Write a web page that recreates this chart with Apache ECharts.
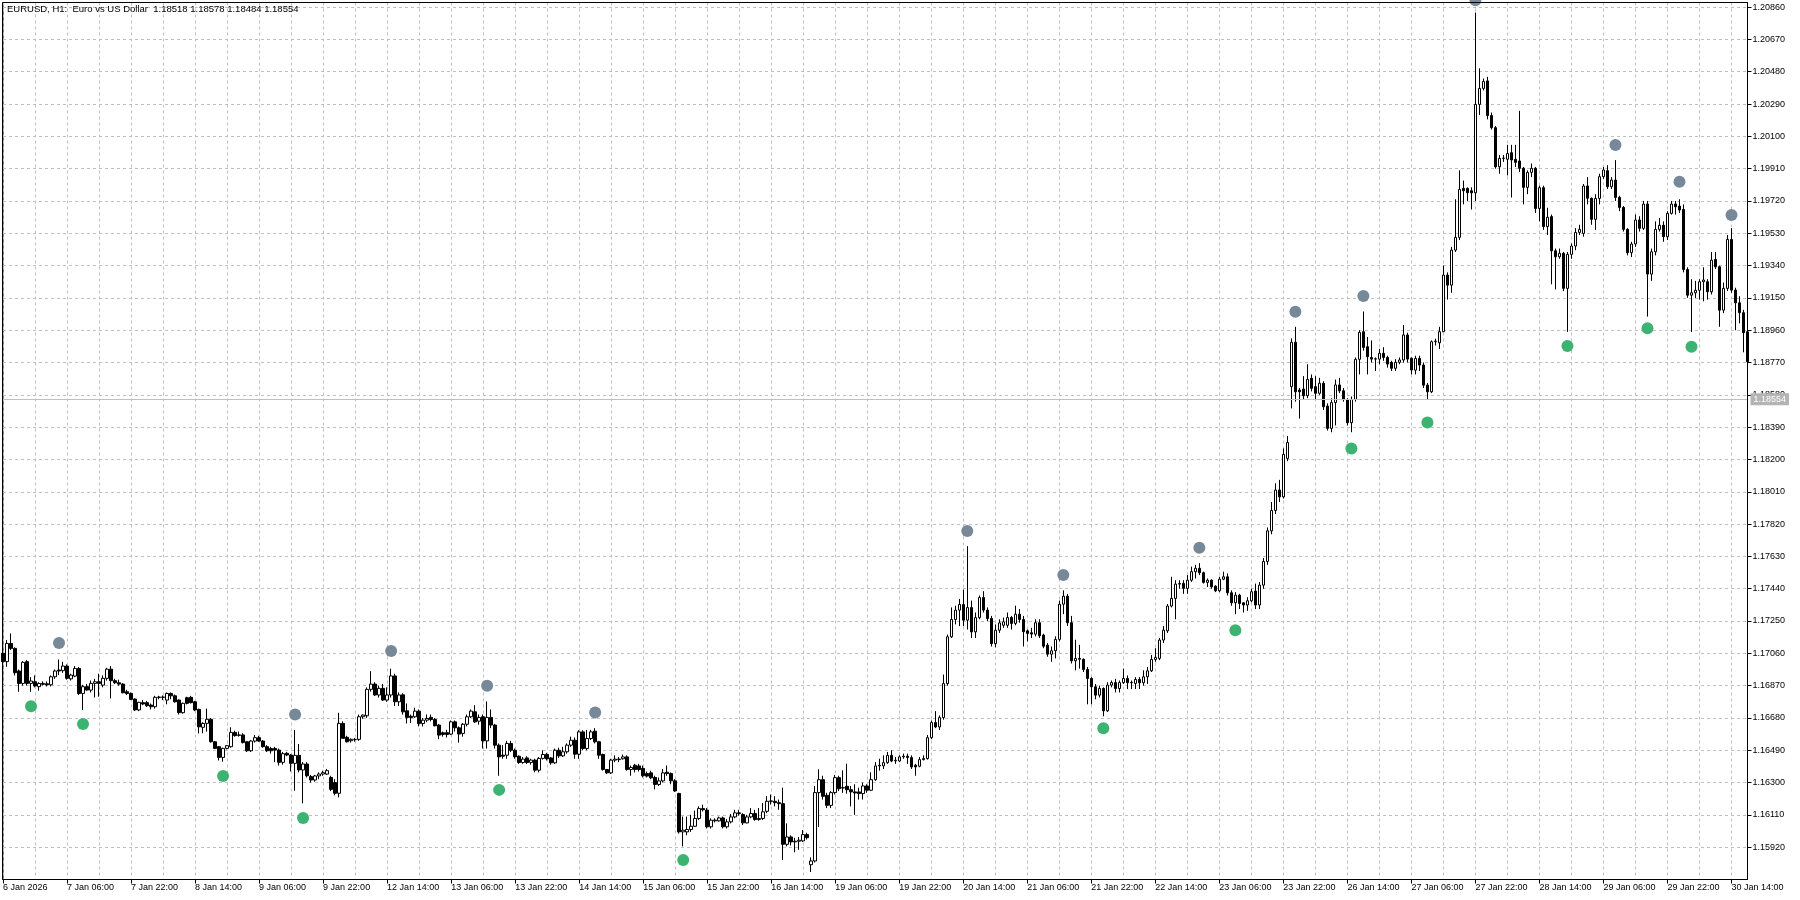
<!DOCTYPE html>
<html><head><meta charset="utf-8">
<script src="https://cdn.jsdelivr.net/npm/echarts@6/dist/echarts.min.js"></script>
<style>html,body{margin:0;padding:0;background:#fff}#c{width:1800px;height:900px}</style>
</head><body><div id="c"></div>
<script>
// Prices are stored as points above 1.00000 (1 point = 0.00001)
const titleText = 'EURUSD, H1:  Euro vs US Dollar  1.18518 1.18578 1.18484 1.18554';
const bidPrice = 1.18554;
const tickLabels = ["6 Jan 2026","7 Jan 06:00","7 Jan 22:00","8 Jan 14:00","9 Jan 06:00","9 Jan 22:00","12 Jan 14:00","13 Jan 06:00","13 Jan 22:00","14 Jan 14:00","15 Jan 06:00","15 Jan 22:00","16 Jan 14:00","19 Jan 06:00","19 Jan 22:00","20 Jan 14:00","21 Jan 06:00","21 Jan 22:00","22 Jan 14:00","23 Jan 06:00","23 Jan 22:00","26 Jan 14:00","27 Jan 06:00","27 Jan 22:00","28 Jan 14:00","29 Jan 06:00","29 Jan 22:00","30 Jan 14:00"];

const opens = [
17060,17011,17118,17089,16956,16883,17011,16883,16893,16864,
16883,16881,16875,16922,16962,16958,16985,16910,16926,16971,
16824,16864,16844,16883,16893,16873,16913,16967,16899,16887,
16879,16834,16824,16791,16727,16770,16770,16756,16746,16801,
16801,16785,16824,16810,16785,16711,16799,16801,16775,16730,
16625,16648,16672,16540,16511,16448,16501,16511,16595,16580,
16580,16540,16487,16544,16564,16544,16511,16500,16500,16491,
16419,16472,16462,16413,16460,16374,16409,16335,16315,16339,
16350,16350,16330,16300,16237,16648,16566,16546,16552,16554,
16687,16693,16848,16879,16815,16854,16785,16815,16927,16775,
16816,16722,16690,16687,16720,16647,16667,16683,16671,16638,
16593,16593,16585,16657,16622,16589,16643,16687,16716,16661,
16687,16545,16683,16638,16520,16461,16461,16530,16490,16455,
16418,16445,16418,16432,16373,16442,16465,16445,16416,16490,
16457,16481,16520,16549,16467,16598,16500,16559,16602,16540,
16465,16377,16357,16432,16435,16440,16451,16377,16402,16398,
16383,16353,16357,16330,16289,16310,16361,16353,16310,16236,
16010,16010,16024,16043,16089,16147,16138,16040,16079,16075,
16092,16040,16069,16098,16122,16112,16063,16098,16118,16083,
16089,16131,16190,16190,16182,16176,15937,15980,15951,15955,
15957,15994,15817,15839,16241,16317,16225,16166,16241,16329,
16268,16278,16258,16245,16245,16235,16280,16255,16317,16398,
16398,16417,16460,16427,16427,16451,16455,16447,16402,16396,
16435,16441,16564,16653,16627,16682,16882,17157,17259,17314,
17347,17255,17329,17186,17270,17388,17314,17265,17117,17196,
17225,17225,17271,17236,17290,17259,17192,17181,17173,17240,
17167,17108,17055,17075,17142,17349,17396,17240,17016,17030,
17025,16965,16912,16863,16814,16853,16722,16873,16888,16853,
16888,16912,16887,16883,16906,16887,16922,16957,17024,17030,
17138,17192,17338,17383,17467,17471,17442,17490,17540,17560,
17534,17477,17490,17455,17428,17496,17510,17416,17357,17402,
17357,17344,17369,17426,17344,17461,17600,17780,17900,18020,
17980,18206,18628,18889,18608,18614,18575,18677,18628,18589,
18648,18514,18383,18534,18638,18604,18553,18416,18553,18789,
18951,18863,18800,18790,18790,18824,18800,18771,18736,18771,
18785,18932,18795,18725,18794,18755,18637,18598,18892,18886,
18951,19284,19225,19431,19506,19794,19794,19780,19768,20288,
20382,20426,20222,20151,19921,19970,19965,20004,19965,19955,
19912,19800,19888,19912,19676,19798,19569,19628,19427,19392,
19412,19206,19406,19455,19535,19529,19808,19736,19612,19735,
19863,19898,19804,19843,19741,19682,19553,19416,19467,19608,
19559,19702,19290,19421,19553,19577,19510,19647,19702,19690,
19670,19317,19166,19180,19195,19245,19245,19186,19376,19333,
19078,19206,19494,19196,19121,19063,18951];

const highs = [
17075,17138,17177,17095,16965,17015,17020,16920,16930,16890,
16895,16895,16930,16965,17024,17010,16995,16940,16985,16980,
16875,16880,16900,16910,16940,16930,16975,16985,16910,16905,
16885,16845,16830,16795,16775,16785,16780,16765,16810,16810,
16812,16830,16830,16818,16790,16770,16805,16810,16780,16735,
16655,16735,16680,16545,16515,16505,16520,16625,16605,16600,
16590,16545,16550,16580,16575,16550,16520,16510,16510,16500,
16480,16480,16468,16609,16527,16420,16420,16345,16345,16360,
16370,16380,16340,16320,16710,16660,16575,16560,16562,16700,
16700,16860,16955,16890,16870,16880,16860,16970,16940,16830,
16825,16765,16700,16740,16730,16680,16700,16700,16680,16645,
16600,16610,16665,16665,16630,16650,16700,16730,16755,16700,
16700,16777,16730,16645,16530,16520,16545,16545,16500,16460,
16450,16455,16440,16440,16450,16490,16475,16450,16500,16505,
16510,16530,16570,16565,16608,16608,16610,16610,16620,16545,
16470,16380,16440,16460,16450,16465,16460,16400,16410,16410,
16400,16365,16370,16340,16330,16380,16400,16360,16320,16240,
16100,16100,16110,16135,16160,16170,16150,16090,16090,16100,
16100,16085,16115,16140,16140,16120,16110,16150,16140,16150,
16180,16220,16230,16220,16200,16270,16060,15990,15975,15980,
16020,16005,15860,16280,16378,16340,16240,16250,16345,16340,
16372,16411,16280,16290,16270,16300,16290,16360,16420,16440,
16460,16480,16490,16450,16460,16470,16470,16460,16410,16450,
16460,16580,16665,16720,16695,16935,17170,17330,17340,17380,
17435,17690,17370,17300,17400,17425,17330,17280,17230,17260,
17270,17300,17280,17340,17320,17280,17200,17210,17260,17260,
17175,17120,17100,17160,17370,17430,17410,17280,17140,17110,
17030,16980,16920,16880,16870,16860,16890,16900,16910,16900,
16970,16930,16900,16920,16920,16960,16980,17050,17090,17150,
17220,17350,17510,17490,17490,17490,17520,17570,17580,17590,
17540,17500,17495,17460,17510,17540,17530,17430,17420,17410,
17360,17390,17440,17470,17480,17620,17800,17950,18060,18080,
18265,18338,18912,18980,18620,18690,18760,18700,18690,18680,
18660,18530,18560,18670,18680,18620,18560,18570,18800,18960,
19070,18920,18900,18800,18850,18860,18810,18780,18790,18800,
18990,18945,18800,18810,18810,18770,18650,18900,18910,18980,
19340,19300,19450,19730,19900,19840,19800,19800,20828,20500,
20440,20450,20240,20160,19990,19990,20050,20050,20050,20250,
19920,19900,19940,19920,19810,19810,19680,19640,19440,19440,
19420,19420,19470,19560,19580,19820,19860,19740,19760,19880,
19920,19930,19860,19960,19750,19690,19560,19480,19640,19630,
19720,19720,19440,19600,19620,19600,19660,19720,19720,19730,
19700,19330,19260,19250,19260,19330,19260,19420,19420,19340,
19240,19520,19560,19210,19160,19080,18960];

const lows = [
17005,16981,17080,16930,16834,16870,16870,16834,16860,16840,
16870,16865,16865,16910,16932,16945,16905,16900,16920,16815,
16727,16840,16830,16800,16805,16860,16900,16795,16880,16870,
16825,16815,16785,16720,16720,16755,16745,16730,16735,16790,
16785,16760,16790,16770,16700,16705,16760,16765,16720,16589,
16590,16600,16535,16500,16430,16423,16495,16505,16570,16570,
16530,16480,16480,16535,16540,16505,16480,16470,16420,16400,
16405,16455,16365,16252,16360,16178,16330,16300,16305,16320,
16340,16345,16250,16225,16213,16560,16535,16535,16540,16545,
16675,16680,16835,16810,16800,16780,16775,16800,16750,16750,
16700,16647,16650,16680,16630,16630,16655,16660,16630,16555,
16570,16565,16580,16600,16535,16570,16630,16680,16650,16640,
16500,16500,16620,16500,16340,16440,16440,16480,16440,16410,
16410,16410,16405,16360,16360,16435,16430,16405,16410,16445,
16450,16470,16510,16440,16440,16490,16490,16550,16530,16440,
16370,16350,16350,16420,16420,16435,16370,16340,16360,16365,
16330,16330,16320,16260,16280,16300,16340,16290,16245,16000,
15925,15990,16010,16040,16080,16130,16030,16030,16065,16070,
16030,16030,16060,16090,16105,16050,16060,16090,16075,16075,
16080,16120,16170,16160,16140,15845,15925,15930,15890,15905,
15950,15965,15774,15830,16039,16200,16150,16150,16230,16250,
16240,16235,16160,16110,16200,16200,16240,16250,16310,16370,
16380,16410,16420,16410,16420,16440,16410,16380,16340,16390,
16430,16435,16555,16620,16610,16670,16870,17150,17230,17220,
17220,17200,17150,17150,17260,17300,17250,17100,17095,17180,
17210,17210,17200,17225,17240,17100,17130,17150,17160,17150,
17090,17040,17010,17030,17130,17290,17220,17000,16960,16970,
16950,16760,16760,16790,16800,16690,16715,16860,16830,16830,
16880,16850,16850,16850,16850,16870,16880,16950,17010,17020,
17120,17180,17330,17260,17440,17410,17410,17480,17500,17520,
17470,17450,17440,17420,17420,17490,17400,17340,17290,17320,
17300,17310,17360,17320,17320,17440,17580,17760,17880,17950,
17970,18190,18500,18540,18440,18550,18560,18600,18550,18580,
18490,18370,18360,18400,18590,18540,18400,18360,18540,18700,
18840,18700,18770,18720,18760,18780,18740,18720,18720,18760,
18770,18770,18700,18700,18720,18620,18550,18590,18870,18850,
18950,19140,19180,19420,19490,19700,19720,19670,19720,20225,
20370,20200,20140,19910,19880,19950,19870,19740,19920,19890,
19700,19760,19860,19650,19600,19550,19520,19230,19200,19380,
19190,18950,19380,19430,19520,19510,19700,19580,19550,19700,
19850,19790,19790,19720,19660,19540,19400,19390,19450,19540,
19550,19040,19250,19400,19540,19480,19490,19640,19640,19650,
19300,19150,18950,19150,19140,19130,19140,19170,19320,18980,
19060,19190,19180,18960,19000,18830,18740];

const closes = [
17011,17118,17089,16946,16883,17007,16883,16897,16868,16883,
16878,16875,16922,16956,16956,16985,16913,16932,16971,16824,
16864,16844,16883,16893,16883,16913,16967,16899,16887,16879,
16828,16824,16789,16727,16772,16762,16752,16746,16801,16803,
16803,16824,16810,16775,16711,16766,16766,16770,16727,16628,
16648,16672,16540,16501,16448,16501,16517,16595,16576,16578,
16535,16487,16544,16564,16544,16511,16487,16487,16491,16419,
16470,16462,16413,16460,16374,16409,16340,16315,16339,16350,
16358,16370,16260,16237,16648,16560,16540,16554,16554,16687,
16697,16848,16879,16815,16854,16785,16815,16927,16775,16815,
16716,16683,16683,16720,16647,16667,16677,16671,16634,16579,
16583,16583,16657,16622,16585,16643,16687,16720,16657,16683,
16545,16683,16638,16520,16451,16455,16530,16490,16451,16418,
16438,16418,16432,16373,16442,16465,16440,16416,16490,16457,
16481,16520,16549,16467,16598,16500,16559,16598,16540,16461,
16377,16357,16432,16438,16438,16451,16377,16389,16377,16377,
16340,16338,16328,16289,16310,16357,16353,16310,16251,16010,
16020,16024,16043,16089,16147,16140,16040,16079,16075,16092,
16040,16069,16098,16122,16118,16063,16098,16118,16083,16089,
16128,16190,16192,16182,16176,15937,15980,15951,15955,15961,
15994,15976,15839,16241,16317,16219,16166,16241,16329,16264,
16270,16258,16245,16239,16235,16280,16255,16317,16398,16402,
16417,16460,16427,16431,16451,16455,16447,16392,16392,16435,
16441,16564,16653,16627,16682,16882,17157,17259,17314,17347,
17255,17329,17186,17270,17388,17314,17265,17117,17196,17239,
17245,17270,17236,17290,17259,17187,17177,17173,17240,17163,
17102,17055,17075,17142,17349,17396,17240,17016,17030,17025,
16965,16912,16863,16814,16853,16722,16873,16888,16853,16888,
16912,16887,16889,16906,16887,16922,16957,17024,17036,17138,
17196,17338,17383,17467,17471,17442,17490,17540,17560,17534,
17477,17490,17451,17428,17496,17510,17416,17357,17402,17353,
17344,17369,17422,17344,17461,17600,17780,17900,18020,17980,
18230,18300,18889,18598,18598,18575,18671,18618,18589,18648,
18510,18383,18534,18638,18604,18553,18416,18553,18789,18947,
18859,18804,18790,18792,18824,18800,18761,18736,18771,18785,
18932,18790,18726,18794,18755,18637,18598,18892,18895,18951,
19284,19225,19431,19506,19788,19780,19768,19768,20288,20382,
20422,20222,20151,19921,19970,19972,19999,19961,19947,19912,
19800,19888,19912,19676,19798,19569,19624,19427,19392,19412,
19206,19406,19455,19535,19553,19808,19736,19612,19735,19863,
19902,19804,19843,19741,19682,19553,19416,19467,19608,19559,
19702,19290,19421,19553,19577,19510,19647,19702,19686,19667,
19317,19166,19180,19195,19245,19255,19186,19372,19333,19078,
19206,19494,19196,19121,19063,18945,18775];

// swing-high markers (grey) and swing-low markers (green): bar index, price points
const highMarkIdx = [14,73,97,121,148,241,265,299,323,340,368,403,419,432];
const highMarkVal = [17120,16700,17074,16869,16712,17779,17520,17681,19069,19161,20900,20049,19833,19637];
const lowMarkIdx  = [7,20,55,75,124,170,275,308,337,356,391,411,422];
const lowMarkVal  = [16749,16645,16339,16092,16257,15844,16620,17196,18265,18417,18867,18971,18863];

const toPrice = v => 1 + v / 100000;

// hourly category names (weekdays only), starting 6 Jan 2026 14:00
const categories = [];
(function(){
  let t = Date.UTC(2026, 0, 6, 14);
  while (categories.length < opens.length) {
    const d = new Date(t), wd = d.getUTCDay();
    if (wd !== 0 && wd !== 6) categories.push(d.getUTCDate() + ' Jan ' + String(d.getUTCHours()).padStart(2, '0') + ':00');
    t += 3600000;
  }
})();

const ohlc = opens.map((o, i) => {
  const O = toPrice(o), C = toPrice(closes[i]);
  const H = Math.max(toPrice(highs[i]), O, C), L = Math.min(toPrice(lows[i]), O, C);
  return [O, C, L, H];
});

const FONT = 'Liberation Sans, Arial, sans-serif';
const GRIDC = '#c0c0c0';
const G = {left: 2.5, right: 52.5, top: 2.5, bottom: 20.5};
const chart = echarts.init(document.getElementById('c'), null, {renderer: 'canvas'});
chart.setOption({
  animation: false,
  backgroundColor: '#fff',
  title: {text: titleText, left: 7, top: 4, padding: 0,
    textStyle: {fontSize: 9.5, fontWeight: 'normal', fontFamily: FONT, color: '#000'}},
  grid: {left: G.left, right: G.right, top: G.top, bottom: G.bottom, show: true, borderColor: '#000', borderWidth: 1, backgroundColor: '#fff'},
  graphic: [{
    type: 'rect', silent: true, z: 100,
    shape: {x: G.left, y: G.top, width: 1800 - G.left - G.right, height: 900 - G.top - G.bottom},
    style: {fill: 'none', stroke: '#000', lineWidth: 1}
  }],
  xAxis: {
    type: 'category', data: categories, boundaryGap: false,
    axisLine: {show: true, lineStyle: {color: '#000', width: 1}},
    axisTick: {show: true, length: 4, interval: i => i % 16 === 0, lineStyle: {color: '#000'}},
    axisLabel: {show: true, interval: i => i % 16 === 0, formatter: (v, i) => tickLabels[i / 16] || '',
      align: 'left', margin: 4, fontSize: 9, fontFamily: FONT, color: '#000'},
    splitLine: {show: true, interval: i => i % 8 === 0, lineStyle: {color: GRIDC, type: [3, 3], width: 1}}
  },
  yAxis: {
    type: 'value', position: 'right', min: 1.15730, max: 1.20887, interval: 0.0019, scale: true,
    axisLine: {show: true, lineStyle: {color: '#000'}},
    axisTick: {show: true, length: 4, lineStyle: {color: '#000'}},
    axisLabel: {show: true, margin: 5, fontSize: 9, fontFamily: FONT, color: '#000',
      formatter: v => v.toFixed(5), showMinLabel: false, showMaxLabel: false},
    splitLine: {show: true, lineStyle: {color: GRIDC, type: [3, 3], width: 1}}
  },
  series: [
    {
      type: 'candlestick', data: ohlc, barWidth: 3, z: 2,
      itemStyle: {color: '#fff', color0: '#000', borderColor: '#000', borderColor0: '#000', borderWidth: 1},
      markLine: {
        silent: true, symbol: 'none', animation: false, precision: 5,
        data: [{yAxis: bidPrice}],
        lineStyle: {color: '#c0c0c0', type: 'solid', width: 1},
        label: {show: true, position: 'end', distance: 3, formatter: bidPrice.toFixed(5),
          color: '#fff', backgroundColor: '#b4b4b4', padding: [2, 3, 1, 3], fontSize: 9, fontFamily: FONT}
      }
    },
    {
      type: 'scatter', z: 3, clip: false, symbolSize: 12,
      data: highMarkIdx.map((x, k) => [x, toPrice(highMarkVal[k])]),
      itemStyle: {color: '#778899', opacity: 1}
    },
    {
      type: 'scatter', z: 3, clip: false, symbolSize: 12,
      data: lowMarkIdx.map((x, k) => [x, toPrice(lowMarkVal[k])]),
      itemStyle: {color: '#3cb371', opacity: 1}
    }
  ]
});
</script>
</body></html>
